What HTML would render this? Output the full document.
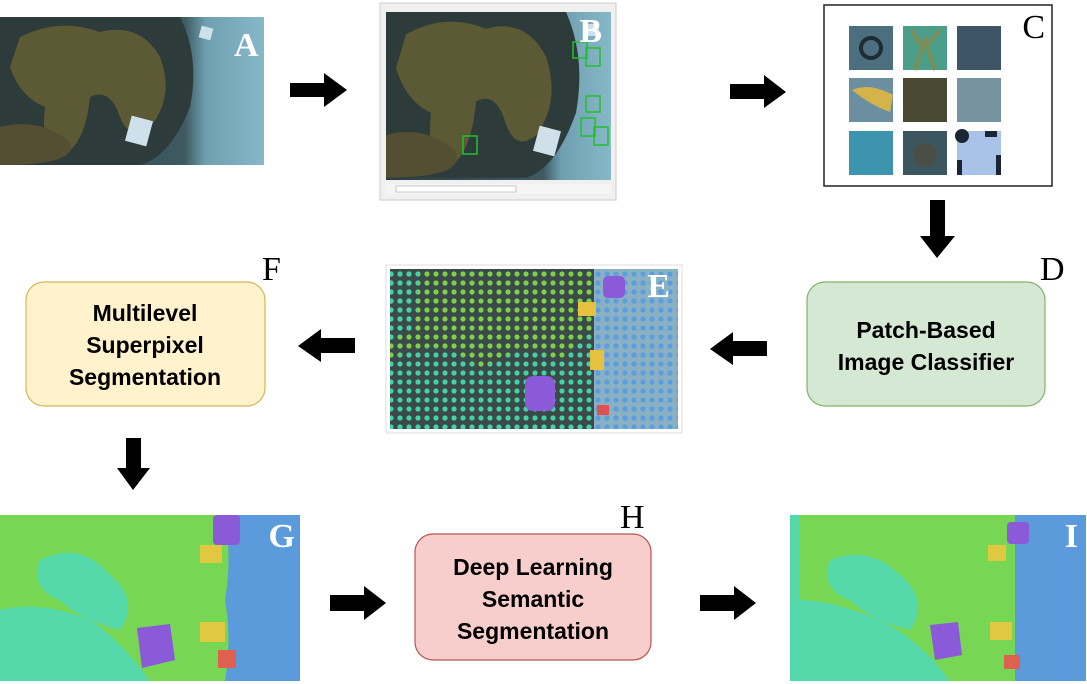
<!DOCTYPE html>
<html><head><meta charset="utf-8"><style>
html,body{margin:0;padding:0;background:#fff;}
svg{display:block;font-family:"Liberation Sans",sans-serif;}
.lbl{font-family:"Liberation Serif",serif;font-size:34px;}
.bt{font-family:"Liberation Sans",sans-serif;font-weight:bold;font-size:23px;text-anchor:middle;}
</style></head><body>
<svg width="1087" height="684" viewBox="0 0 1087 684" xmlns="http://www.w3.org/2000/svg">
<defs>
<linearGradient id="sea" x1="0" y1="0" x2="1" y2="0">
<stop offset="0" stop-color="#2c3e45"/><stop offset="0.7" stop-color="#3e5a60"/><stop offset="0.78" stop-color="#6fa0b2"/><stop offset="1" stop-color="#86b8c8"/>
</linearGradient>
<pattern id="dotsG" width="9" height="9" patternUnits="userSpaceOnUse"><circle cx="4" cy="4" r="2.6" fill="#7ed04a"/></pattern>
<pattern id="dotsT" width="9" height="9" patternUnits="userSpaceOnUse"><circle cx="4" cy="4" r="2.6" fill="#45d0a8"/></pattern>
<pattern id="dotsB" width="9" height="9" patternUnits="userSpaceOnUse"><circle cx="4" cy="4" r="2.6" fill="#5a9ee0"/></pattern>
<g id="coral">
<path d="M0 0 L180 0 Q200 40 190 90 Q170 140 140 148 L0 148 Z" fill="#2d3b3a"/>
<path d="M20 20 Q60 0 100 15 Q140 5 160 40 Q175 80 150 110 Q130 125 120 100 Q110 70 90 80 Q85 130 60 140 Q40 130 45 90 Q20 80 10 50 Z" fill="#5b5a35"/>
<path d="M0 110 Q40 100 70 125 Q80 148 0 148 Z" fill="#544f32"/>
</g>
</defs>

<!-- A -->
<rect x="0" y="17" width="264" height="148" fill="url(#sea)"/>
<use href="#coral" x="0" y="17"/>
<rect x="128" y="118" width="22" height="26" fill="#cfe0ea" transform="rotate(15 139 131)"/>
<rect x="200" y="27" width="12" height="12" fill="#cfe0ea" transform="rotate(15 206 33)"/>
<text x="234" y="56" class="lbl" fill="#fff" font-weight="bold">A</text>

<polygon points="290,83 324,83 324,73 347,90 324,107 324,97 290,97" fill="#000"/>

<!-- B window -->
<rect x="380" y="3" width="236" height="197" fill="#f0f0f0" stroke="#ccc"/>
<rect x="386" y="12" width="225" height="168" fill="url(#sea)"/>
<use href="#coral" x="386" y="18" transform="translate(386 12) scale(1 1.12) translate(-386 -18)"/>
<rect x="536" y="128" width="22" height="26" fill="#cfe0ea" transform="rotate(15 547 141)"/>
<rect x="588" y="24" width="11" height="12" fill="#cfe0ea"/>
<g fill="none" stroke="#22c02a" stroke-width="1.5">
<rect x="573" y="42" width="14" height="16"/><rect x="586" y="48" width="14" height="18"/>
<rect x="586" y="96" width="14" height="16"/><rect x="581" y="118" width="14" height="18"/>
<rect x="594" y="127" width="14" height="18"/><rect x="463" y="136" width="14" height="18"/>
</g>
<text x="602" y="42" class="lbl" fill="#fff" font-weight="bold" text-anchor="end">B</text>
<rect x="386" y="184" width="225" height="10" fill="#f5f5f5"/>
<rect x="396" y="186" width="120" height="6" fill="#fff" stroke="#999" stroke-width="0.5"/>

<polygon points="730,84 764,84 764,75 786,92 764,108 764,99 730,99" fill="#000"/>

<!-- C -->
<rect x="824" y="5" width="228" height="181" fill="#fff" stroke="#222" stroke-width="1.5"/>
<rect x="849" y="26" width="44" height="44" fill="#4c6f80"/><circle cx="871" cy="48" r="10" fill="none" stroke="#1b2c33" stroke-width="4"/>
<rect x="903" y="26" width="44" height="44" fill="#4a9e8a"/><path d="M915 70 L925 40 L935 70 M920 45 L912 30 M928 44 L940 30" stroke="#7d8e55" stroke-width="4" fill="none"/>
<rect x="957" y="26" width="44" height="44" fill="#3d5566"/>
<rect x="849" y="78" width="44" height="44" fill="#6b8fa0"/><path d="M852 90 Q870 82 893 95 L890 112 Q870 105 852 90Z" fill="#d3b34a"/>
<rect x="903" y="78" width="44" height="44" fill="#4a4a32"/>
<rect x="957" y="78" width="44" height="44" fill="#7893a0"/>
<rect x="849" y="131" width="44" height="44" fill="#3d94ad"/>
<rect x="903" y="131" width="44" height="44" fill="#3c5660"/><circle cx="925" cy="155" r="12" fill="#4a4f45"/>
<rect x="957" y="131" width="44" height="44" fill="#a9c3e8"/><circle cx="962" cy="136" r="7" fill="#1b2533"/><rect x="985" y="131" width="12" height="6" fill="#1b2533"/><rect x="957" y="160" width="5" height="15" fill="#1b2533"/><rect x="996" y="155" width="5" height="20" fill="#1b2533"/>
<text x="1045" y="38" class="lbl" fill="#000" text-anchor="end">C</text>

<polygon points="930,200 945,200 945,236 955,236 937,258 920,236 930,236" fill="#000"/>

<!-- D -->
<rect x="807" y="282" width="238" height="124" rx="18" fill="#d5e8d4" stroke="#82b366" stroke-width="1.2"/>
<text x="926" y="338" class="bt">Patch-Based</text>
<text x="926" y="370" class="bt">Image Classifier</text>
<text x="1040" y="280" class="lbl" fill="#000">D</text>

<polygon points="767,341 733,341 733,332 710,349 733,365 733,356 767,356" fill="#000"/>

<!-- E -->
<rect x="386" y="265" width="296" height="168" fill="#fff" stroke="#ddd"/>
<rect x="390" y="269" width="288" height="160" fill="#3a4a48"/>
<rect x="594" y="269" width="84" height="160" fill="#8ab0c4"/>
<rect x="390" y="269" width="205" height="160" fill="url(#dotsG)"/>
<path d="M390 360 Q440 330 480 370 Q520 340 560 360 L590 330 L594 429 L390 429 Z" fill="#3a4a48"/>
<path d="M390 360 Q440 330 480 370 Q520 340 560 360 L590 330 L594 429 L390 429 Z" fill="url(#dotsT)"/>
<path d="M390 269 L420 269 L415 330 L390 340 Z" fill="url(#dotsT)"/>
<rect x="594" y="269" width="84" height="160" fill="url(#dotsB)"/>
<rect x="525" y="376" width="30" height="35" rx="8" fill="#8a5ad8"/>
<rect x="603" y="276" width="22" height="22" rx="5" fill="#8a5ad8"/>
<rect x="578" y="302" width="18" height="14" fill="#e6c040"/><rect x="590" y="350" width="14" height="20" fill="#e6c040"/>
<rect x="597" y="405" width="12" height="10" fill="#e05050"/>
<text x="670" y="297" class="lbl" fill="#fff" font-weight="bold" text-anchor="end">E</text>

<polygon points="355,338 321,338 321,329 298,346 321,362 321,353 355,353" fill="#000"/>

<!-- F -->
<rect x="26" y="282" width="239" height="124" rx="18" fill="#fff2cc" stroke="#d6b656" stroke-width="1.2"/>
<text x="145" y="321" class="bt">Multilevel</text>
<text x="145" y="353" class="bt">Superpixel</text>
<text x="145" y="385" class="bt">Segmentation</text>
<text x="262" y="280" class="lbl" fill="#000">F</text>

<polygon points="126,438 141,438 141,468 150,468 133,490 117,468 126,468" fill="#000"/>

<!-- G -->
<rect x="0" y="515" width="300" height="166" fill="#55d9aa"/>
<path d="M0 515 L210 515 Q205 560 215 600 Q210 640 220 681 L150 681 Q120 640 90 620 Q40 600 0 610 Z" fill="#77d654"/>
<path d="M40 560 Q80 540 110 575 Q140 600 120 630 Q80 620 60 600 Q30 590 40 560 Z" fill="#55d9aa"/>
<rect x="210" y="515" width="90" height="166" fill="#5b9bdb"/>
<path d="M210 515 L225 515 Q232 560 225 600 Q232 640 225 681 L205 681 Q200 640 208 600 Q200 560 210 515Z" fill="#77d654"/>
<rect x="213" y="515" width="27" height="30" rx="4" fill="#8a5ad8"/>
<path d="M137 628 L170 624 L175 660 L142 668 Z" fill="#8a5ad8"/>
<rect x="200" y="545" width="22" height="18" fill="#e0c840"/><rect x="200" y="622" width="25" height="20" fill="#e0c840"/>
<rect x="218" y="650" width="18" height="18" fill="#e06050"/>
<text x="295" y="547" class="lbl" fill="#fff" font-weight="bold" text-anchor="end">G</text>

<polygon points="330,595 364,595 364,586 386,603 364,620 364,611 330,611" fill="#000"/>

<!-- H -->
<rect x="415" y="534" width="236" height="126" rx="18" fill="#f8cecc" stroke="#b85450" stroke-width="1.2"/>
<text x="533" y="575" class="bt">Deep Learning</text>
<text x="533" y="607" class="bt">Semantic</text>
<text x="533" y="639" class="bt">Segmentation</text>
<text x="620" y="528" class="lbl" fill="#000">H</text>

<polygon points="700,595 734,595 734,586 756,603 734,620 734,611 700,611" fill="#000"/>

<!-- I -->
<rect x="790" y="515" width="296" height="166" fill="#55d9aa"/>
<path d="M800 515 L1005 515 Q1000 560 1010 600 Q1005 640 1012 681 L950 681 Q920 640 880 620 Q830 600 800 600 Z" fill="#77d654"/>
<path d="M830 560 Q870 545 900 575 Q930 600 910 630 Q870 620 850 600 Q820 590 830 560 Z" fill="#55d9aa"/>
<rect x="1012" y="515" width="74" height="166" fill="#5b9bdb"/>
<rect x="1000" y="515" width="15" height="166" fill="#77d654"/>
<rect x="1007" y="522" width="22" height="22" rx="4" fill="#8a5ad8"/>
<path d="M930 625 L958 622 L962 655 L935 660 Z" fill="#8a5ad8"/>
<rect x="988" y="545" width="18" height="16" fill="#e0c840"/><rect x="990" y="622" width="22" height="18" fill="#e0c840"/>
<rect x="1004" y="655" width="16" height="14" fill="#e06050"/>
<text x="1078" y="547" class="lbl" fill="#fff" font-weight="bold" text-anchor="end">I</text>
</svg>
</body></html>
